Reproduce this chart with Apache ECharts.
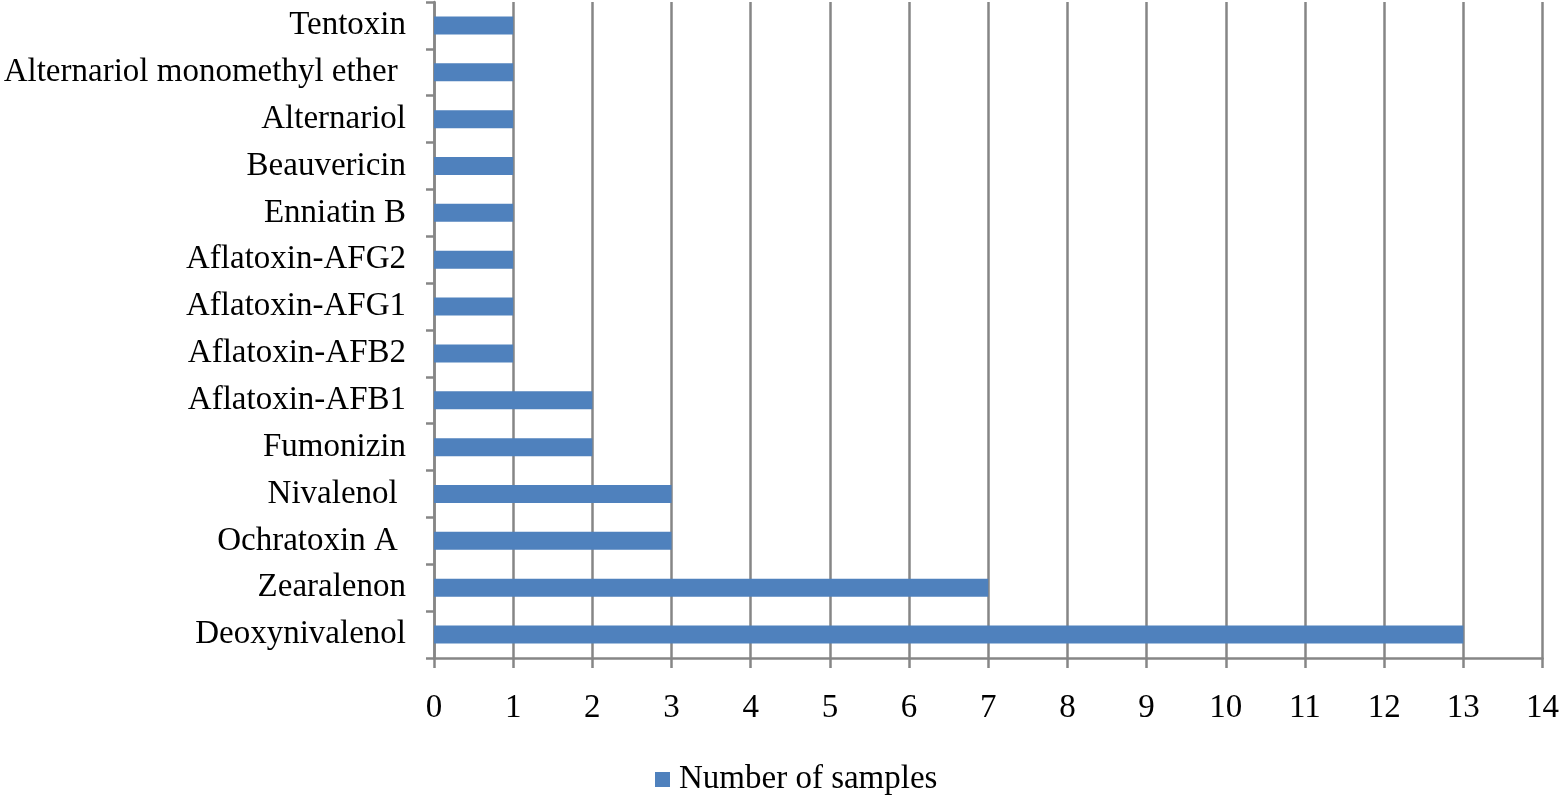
<!DOCTYPE html>
<html>
<head>
<meta charset="utf-8">
<script src="https://cdn.jsdelivr.net/npm/echarts@6/dist/echarts.min.js"></script>
<style>
html, body { margin: 0; padding: 0; background: #fff; }
#chart { width: 1562px; height: 801px; }
</style>
</head>
<body>
<div id="chart"></div>
<script>
// categories bottom to top, as ECharts draws a category y axis
var toxinList = ['Deoxynivalenol', 'Zearalenon', 'Ochratoxin A ', 'Nivalenol ', 'Fumonizin',
	'Aflatoxin-AFB1', 'Aflatoxin-AFB2', 'Aflatoxin-AFG1', 'Aflatoxin-AFG2', 'Enniatin B',
	'Beauvericin', 'Alternariol', 'Alternariol monomethyl ether ', 'Tentoxin'];
var sampleList = [13, 7, 3, 3, 2, 2, 1, 1, 1, 1, 1, 1, 1, 1];
var seriesName = 'Number of samples';

var fontName = '"Liberation Serif", "DejaVu Serif", serif';
var lineColor = '#868686';

var option = {
	animation: false,
	grid: {
		left: 434,
		right: 16,
		top: 2,
		bottom: 143,
		containLabel: false
	},
	legend: {
		bottom: 0,
		left: 650,
		itemWidth: 15,
		itemHeight: 15,
		icon: 'rect',
		textStyle: {
			fontFamily: fontName,
			fontSize: 33,
			color: '#000',
			padding: [0, 0, 0, 4]
		},
		data: [seriesName]
	},
	xAxis: {
		type: 'value',
		min: 0,
		max: 14,
		interval: 1,
		axisLine: { show: true, lineStyle: { color: lineColor, width: 2.5 } },
		axisTick: { show: true, length: 10, lineStyle: { color: lineColor, width: 2.5 } },
		splitLine: { show: true, lineStyle: { color: lineColor, width: 2.5 } },
		axisLabel: {
			margin: 34,
			fontFamily: fontName,
			fontSize: 33,
			color: '#000'
		}
	},
	yAxis: {
		type: 'category',
		data: toxinList,
		axisLine: { show: true, lineStyle: { color: lineColor, width: 2.5 } },
		axisTick: { show: true, length: 8, lineStyle: { color: lineColor, width: 2.5 } },
		axisLabel: {
			margin: 28,
			fontFamily: fontName,
			fontSize: 33,
			color: '#000'
		}
	},
	series: [
		{
			name: seriesName,
			type: 'bar',
			data: sampleList,
			barWidth: 18,
			itemStyle: { color: '#4F81BD' }
		}
	]
};
echarts.init(document.getElementById('chart')).setOption(option, true);
</script>
</body>
</html>
